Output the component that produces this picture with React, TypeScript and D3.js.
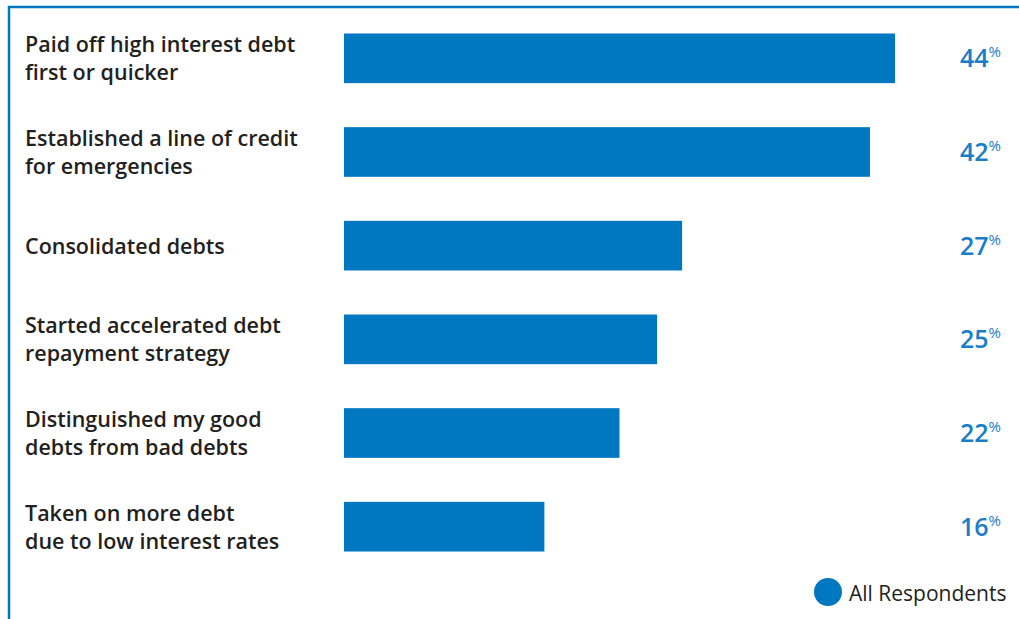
import React, { useEffect, useRef } from 'react';
import { scaleBand, scaleLinear, select } from 'd3';

const categories = [
  ['Paid off high interest debt', 'first or quicker'],
  ['Established a line of credit', 'for emergencies'],
  ['Consolidated debts'],
  ['Started accelerated debt', 'repayment strategy'],
  ['Distinguished my good', 'debts from bad debts'],
  ['Taken on more debt', 'due to low interest rates'],
];
const values = [44, 42, 27, 25, 22, 16];
const seriesName = 'All Respondents';

const BLUE = '#0077c1';
const TEXT_BLUE = '#1a7dc8';
const FONT = '"Open Sans", Lato, sans-serif';

const App = () => {
  const chartRef = useRef<SVGSVGElement | null>(null);

  useEffect(() => {
    const svg = select(chartRef.current);
    const width = 1019;
    const height = 619;
    svg.selectAll('*').remove();
    svg.attr('width', width).attr('height', height);

    // frame: top and left rules
    svg.append('line').attr('x1', 8).attr('x2', width).attr('y1', 7).attr('y2', 7)
      .attr('stroke', BLUE).attr('stroke-width', 2.5);
    svg.append('line').attr('x1', 9).attr('x2', 9).attr('y1', 6).attr('y2', height)
      .attr('stroke', BLUE).attr('stroke-width', 2.5);

    const idx = values.map((_, i) => i);
    const y = scaleBand<number>().domain(idx).range([11, 574]).paddingInner(0.47).paddingOuter(0.24);
    const x = scaleLinear().domain([0, 44]).range([344, 895]);

    const rows = svg.selectAll('.row').data(idx).enter().append('g').attr('class', 'row');

    rows.append('rect')
      .attr('x', x(0))
      .attr('y', (i) => y(i) ?? 0)
      .attr('width', (i) => x(values[i]) - x(0))
      .attr('height', y.bandwidth())
      .attr('fill', BLUE);

    rows.each(function (i) {
      const g = select(this);
      const cy = (y(i) ?? 0) + y.bandwidth() / 2;
      const lines = categories[i];
      const lh = 28;
      const t = g.append('text')
        .attr('x', 25)
        .attr('font-family', FONT)
        .attr('font-size', 21.5)
        .attr('font-weight', 600)
        .attr('fill', '#231f20');
      lines.forEach((l, k) => {
        t.append('tspan')
          .attr('x', 25)
          .attr('y', cy + (k - (lines.length - 1) / 2) * lh + 8)
          .text(l);
      });

      const v = g.append('text')
        .attr('x', 1001)
        .attr('y', cy + 9)
        .attr('text-anchor', 'end')
        .attr('font-family', FONT)
        .attr('fill', TEXT_BLUE);
      v.append('tspan').attr('font-size', 25).attr('font-weight', 600).text(String(values[i]));
      v.append('tspan').attr('font-size', 15).attr('dy', -10).text('%');
    });

    // legend
    svg.append('circle').attr('cx', 828).attr('cy', 592).attr('r', 14).attr('fill', BLUE);
    svg.append('text')
      .attr('x', 849)
      .attr('y', 601)
      .attr('font-family', FONT)
      .attr('font-size', 21)
      .attr('fill', '#231f20')
      .text(seriesName);
  }, []);

  return <svg ref={chartRef} style={{ position: 'absolute', left: 0, top: 0 }} />;
};

export default App;
